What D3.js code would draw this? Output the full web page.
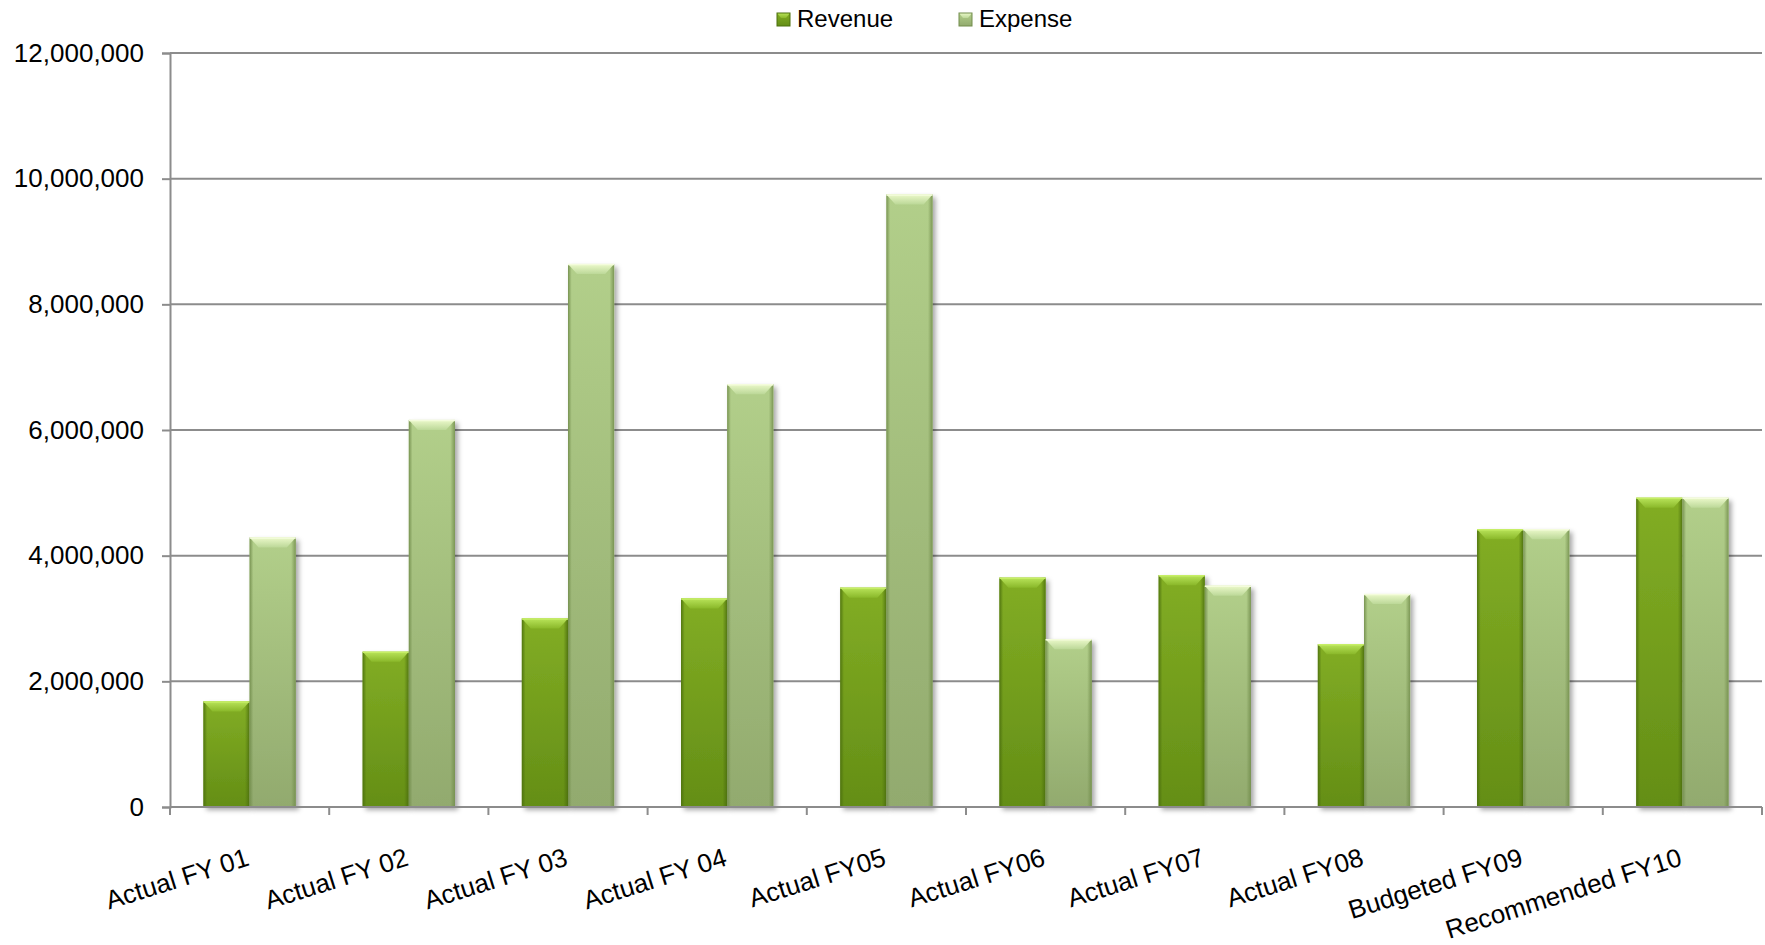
<!DOCTYPE html>
<html>
<head>
<meta charset="utf-8">
<script src="https://cdn.jsdelivr.net/npm/d3@7"></script>
<style>
  html, body { margin: 0; padding: 0; background: #fff; }
  svg { display: block; font-family: "Liberation Sans", Arial, sans-serif; }
</style>
</head>
<body>
<svg id="chart" width="1765" height="945"></svg>
<script>
// Fiscal years shown on the x axis
const categories = ["Actual FY 01", "Actual FY 02", "Actual FY 03", "Actual FY 04", "Actual FY05",
  "Actual FY06", "Actual FY07", "Actual FY08", "Budgeted FY09", "Recommended FY10"];
// Revenue and expense per year
const revenue = [1680000, 2470000, 3000000, 3320000, 3490000, 3650000, 3690000, 2590000, 4420000, 4920000];
const expense = [4290000, 6160000, 8640000, 6730000, 9750000, 2670000, 3520000, 3390000, 4420000, 4920000];
const seriesNames = ["Revenue", "Expense"];
const yTicks = [0, 2000000, 4000000, 6000000, 8000000, 10000000, 12000000];

const svg = d3.select("#chart");
const margin = { left: 170, right: 3, top: 53, bottom: 138 };
const W = 1765, H = 945;
const x0 = margin.left, x1 = W - margin.right, yTop = margin.top, yBot = H - margin.bottom;

const x = d3.scaleBand().domain(categories).range([x0, x1]).paddingInner(0.42).paddingOuter(0.21);
const xs = d3.scaleBand().domain(seriesNames).range([0, x.bandwidth()]);
const y = d3.scaleLinear().domain([0, 12000000]).range([yBot, yTop]);

// Gradients and shadow
const defs = svg.append("defs");
const palettes = {
  Revenue: { top: "#82ad24", bottom: "#648e16", edge: "#4c700e", cap: "#b9e45a", capEnd: "#8ab82a" },
  Expense: { top: "#b2cf8a", bottom: "#92aa6e", edge: "#728d4c", cap: "#ecf9cb", capEnd: "#bcd898" }
};
seriesNames.forEach(s => {
  const p = palettes[s];
  const v = defs.append("linearGradient").attr("id", "body-" + s).attr("x1", 0).attr("y1", 0).attr("x2", 0).attr("y2", 1);
  v.append("stop").attr("offset", "0%").attr("stop-color", p.top);
  v.append("stop").attr("offset", "100%").attr("stop-color", p.bottom);
  const h = defs.append("linearGradient").attr("id", "edge-" + s).attr("x1", 0).attr("y1", 0).attr("x2", 1).attr("y2", 0);
  h.append("stop").attr("offset", "0%").attr("stop-color", p.edge).attr("stop-opacity", 0.9);
  h.append("stop").attr("offset", "8%").attr("stop-color", p.edge).attr("stop-opacity", 0.0);
  h.append("stop").attr("offset", "90%").attr("stop-color", p.edge).attr("stop-opacity", 0.0);
  h.append("stop").attr("offset", "100%").attr("stop-color", p.edge).attr("stop-opacity", 0.85);
  const c = defs.append("linearGradient").attr("id", "cap-" + s).attr("x1", 0).attr("y1", 0).attr("x2", 0).attr("y2", 1);
  c.append("stop").attr("offset", "0%").attr("stop-color", p.cap);
  c.append("stop").attr("offset", "100%").attr("stop-color", p.capEnd);
});
const f = defs.append("filter").attr("id", "shadow").attr("x", "-20%").attr("y", "-5%").attr("width", "150%").attr("height", "120%");
f.append("feDropShadow").attr("dx", 3).attr("dy", 3).attr("stdDeviation", 2.5)
  .attr("flood-color", "#000").attr("flood-opacity", 0.35);

// Gridlines
svg.append("g").selectAll("line").data(yTicks.filter(d => d > 0)).join("line")
  .attr("x1", x0).attr("x2", x1).attr("y1", d => y(d)).attr("y2", d => y(d))
  .attr("stroke", "#8c8c8c").attr("stroke-width", 2);

// Y axis
const yAxis = svg.append("g").attr("transform", `translate(${x0},0)`)
  .call(d3.axisLeft(y).tickValues(yTicks).tickSize(8).tickPadding(18).tickFormat(d3.format(",")));
yAxis.select(".domain").attr("stroke", "#8c8c8c").attr("stroke-width", 2);
yAxis.selectAll(".tick line").attr("stroke", "#8c8c8c").attr("stroke-width", 2);
yAxis.selectAll(".tick text").attr("font-size", 26).attr("fill", "#000")
  .attr("font-family", "'Liberation Sans', Arial, sans-serif");

// Bars
const rows = categories.map((c, i) => ({ cat: c, vals: [{ s: "Revenue", v: revenue[i] }, { s: "Expense", v: expense[i] }] }));
const groups = svg.append("g").selectAll("g").data(rows).join("g")
  .attr("transform", d => `translate(${x(d.cat)},0)`);
const bars = groups.selectAll("g.bar").data(d => d.vals).join("g").attr("class", "bar");
bars.append("rect")
  .attr("x", d => xs(d.s)).attr("y", d => y(d.v))
  .attr("width", xs.bandwidth()).attr("height", d => y(0) - y(d.v))
  .attr("fill", d => `url(#body-${d.s})`).attr("filter", "url(#shadow)");
bars.append("rect")
  .attr("x", d => xs(d.s)).attr("y", d => y(d.v))
  .attr("width", xs.bandwidth()).attr("height", d => y(0) - y(d.v))
  .attr("fill", d => `url(#edge-${d.s})`);
// bevelled top cap
bars.append("polygon")
  .attr("points", d => {
    const l = xs(d.s), r = l + xs.bandwidth(), t = y(d.v), inset = 9, depth = 10;
    return [[l, t], [r, t], [r - inset, t + depth], [l + inset, t + depth]].map(p => p.join(",")).join(" ");
  })
  .attr("fill", d => `url(#cap-${d.s})`);
bars.append("line")
  .attr("x1", d => xs(d.s)).attr("x2", d => xs(d.s) + xs.bandwidth())
  .attr("y1", d => y(d.v) + 0.5).attr("y2", d => y(d.v) + 0.5)
  .attr("stroke", d => d.s === "Revenue" ? "#c6ee66" : "#f4fcdc").attr("stroke-width", 1.5);

// X axis line and ticks at category boundaries
svg.append("line").attr("x1", x0).attr("x2", x1).attr("y1", yBot).attr("y2", yBot)
  .attr("stroke", "#8c8c8c").attr("stroke-width", 2);
const step = x.step();
const bounds = d3.range(categories.length + 1).map(i => x0 + i * step);
svg.append("g").selectAll("line").data(bounds).join("line")
  .attr("x1", d => d).attr("x2", d => d).attr("y1", yBot).attr("y2", yBot + 8)
  .attr("stroke", "#8c8c8c").attr("stroke-width", 2);

// X labels
svg.append("g").selectAll("text").data(categories).join("text")
  .attr("transform", d => `translate(${x(d) + x.bandwidth() / 2 + 1},${yBot + 58}) rotate(-17.5)`)
  .attr("text-anchor", "end").attr("font-size", 26).attr("fill", "#000").text(d => d);

// Legend
const legend = svg.append("g");
const legendPos = [777, 959];
seriesNames.forEach((s, i) => {
  const g = legend.append("g").attr("transform", `translate(${legendPos[i]},13)`);
  g.append("rect").attr("width", 13).attr("height", 13).attr("fill", `url(#body-${s})`);
  g.append("polygon").attr("points", "0,0 13,0 9,5 4,5").attr("fill", `url(#cap-${s})`);
  g.append("rect").attr("width", 13).attr("height", 13).attr("fill", "none")
    .attr("stroke", palettes[s].edge).attr("stroke-width", 1);
  g.append("text").attr("x", 20).attr("y", 14).attr("font-size", 24).attr("fill", "#000").text(s);
});
</script>
</body>
</html>
